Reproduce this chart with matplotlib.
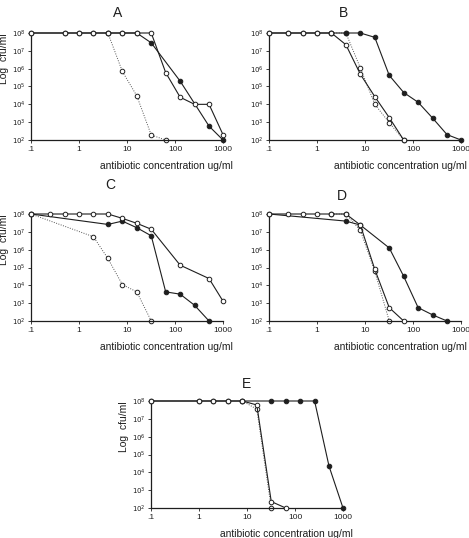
import numpy as np
import matplotlib
matplotlib.use('Agg')
import matplotlib.pyplot as plt

plt.rcParams['font.family'] = ['Liberation Sans', 'DejaVu Sans']
plt.rcParams['mathtext.fontset'] = 'dejavusans'

W, H = 469, 538

# panel A
a_open_x = [0.1, 0.5, 1, 2, 4, 8, 16, 32, 64, 128, 256, 512, 1000]
a_open_y = [1e8, 1e8, 1e8, 1e8, 1e8, 1e8, 1e8, 1e8, 6e5, 2.5e4, 1e4, 1e4, 2e2]
a_fill_x = [0.1, 0.5, 1, 2, 4, 8, 16, 32, 128, 512, 1000]
a_fill_y = [1e8, 1e8, 1e8, 1e8, 1e8, 1e8, 1e8, 2.8e7, 2e5, 6e2, 1e2]
a_dot_x = [4, 8, 16, 32, 64]
a_dot_y = [1e8, 7e5, 3e4, 1.9e2, 1e2]

# panel B
b_open_x = [0.1, 0.25, 0.5, 1, 2, 4, 8, 16, 32, 64]
b_open_y = [1e8, 1e8, 1e8, 1e8, 1e8, 2.2e7, 4.9e5, 2.7e4, 1.8e3, 1e2]
b_fill_x = [0.1, 0.25, 0.5, 1, 2, 4, 8, 16, 32, 64, 128, 256, 512, 1000]
b_fill_y = [1e8, 1e8, 1e8, 1e8, 1e8, 1e8, 1e8, 5.7e7, 4.2e5, 4.6e4, 1.3e4, 1.7e3, 2e2, 1e2]
b_dot_x = [2, 4, 8, 16, 32, 64]
b_dot_y = [1e8, 1e8, 1.1e6, 1e4, 9.4e2, 1e2]

# panel C
c_open_x = [0.1, 0.25, 0.5, 1, 2, 4, 8, 16, 32, 128, 512, 1000]
c_open_y = [1e8, 1e8, 1e8, 1e8, 1e8, 1e8, 5.7e7, 3e7, 1.4e7, 1.35e5, 2.4e4, 1.3e3]
c_fill_x = [0.1, 4, 8, 16, 32, 64, 128, 256, 512]
c_fill_y = [1e8, 2.6e7, 4e7, 1.7e7, 6e6, 4.3e3, 3.2e3, 7.6e2, 1e2]
c_dot_x = [0.1, 2, 4, 8, 16, 32]
c_dot_y = [1e8, 5.3e6, 3.2e5, 1.1e4, 4.3e3, 1e2]

# panel D
d_open_x = [0.1, 0.25, 0.5, 1, 2, 4, 8, 16, 32, 64]
d_open_y = [1e8, 1e8, 1e8, 1e8, 1e8, 1e8, 2.4e7, 7.8e4, 5.6e2, 1e2]
d_fill_x = [0.1, 4, 8, 32, 64, 128, 256, 512]
d_fill_y = [1e8, 4e7, 2.4e7, 1.25e6, 3.2e4, 5.6e2, 2.2e2, 1e2]
d_dot_x = [2, 4, 8, 16, 32]
d_dot_y = [1e8, 1e8, 1.2e7, 6e4, 1e2]

# panel E
e_open_x = [0.1, 1, 2, 4, 8, 16, 32, 64]
e_open_y = [1e8, 1e8, 1e8, 1e8, 1e8, 6e7, 2.3e2, 1e2]
e_fill_x = [0.1, 1, 2, 4, 8, 32, 64, 128, 256, 512, 1000]
e_fill_y = [1e8, 1e8, 1e8, 1e8, 1e8, 1e8, 1e8, 1e8, 1e8, 2.2e4, 1e2]
e_dot_x = [8, 16, 32]
e_dot_y = [1e8, 3.5e7, 1e2]

xticks = [0.1, 1, 10, 100, 1000]
xticklabels = ['.1', '1', '10', '100', '1000']
yexp = [2, 3, 4, 5, 6, 7, 8]

# name, axes top-left (px), title centre (px), y label?, xlabel right end
panels = [
    ('A', (31, 33), (118, 13), True, 1.05,
     (a_open_x, a_open_y), (a_fill_x, a_fill_y), (a_dot_x, a_dot_y)),
    ('B', (269, 33), (343, 13), False, 1.03,
     (b_open_x, b_open_y), (b_fill_x, b_fill_y), (b_dot_x, b_dot_y)),
    ('C', (31, 214), (110, 185), True, 1.05,
     (c_open_x, c_open_y), (c_fill_x, c_fill_y), (c_dot_x, c_dot_y)),
    ('D', (269, 214), (342, 196), False, 1.03,
     (d_open_x, d_open_y), (d_fill_x, d_fill_y), (d_dot_x, d_dot_y)),
    ('E', (151, 401), (246, 384), True, 1.05,
     (e_open_x, e_open_y), (e_fill_x, e_fill_y), (e_dot_x, e_dot_y)),
]

ink = '#1e1e1e'
fig = plt.figure(figsize=(W / 100, H / 100), dpi=100)

for name, (left, top), (tx, ty), ylab, xl_end, opn, fil, dot in panels:
    ax = fig.add_axes([left / W, 1 - (top + 107) / H, 192 / W, 107 / H])
    ax.set_xscale('log')
    ax.set_yscale('log')

    ax.plot(dot[0], dot[1], ls=(0, (1, 1.5)), lw=0.7, color='#555555',
            marker='o', ms=3.3, mfc='white', mec=ink, mew=0.7,
            clip_on=False, zorder=2)
    ax.plot(fil[0], fil[1], ls='-', lw=0.8, color=ink,
            marker='o', ms=3.3, mfc=ink, mec=ink, mew=0.7,
            clip_on=False, zorder=3)
    ax.plot(opn[0], opn[1], ls='-', lw=0.8, color=ink,
            marker='o', ms=3.3, mfc='white', mec=ink, mew=0.7,
            clip_on=False, zorder=4)

    ax.set_xlim(0.1, 1000)
    ax.set_ylim(1e2, 1e8)
    ax.set_xticks(xticks)
    ax.set_xticklabels(xticklabels)
    ax.set_yticks([10.0 ** e for e in yexp])
    ax.set_yticklabels(['$10^{%d}$' % e for e in yexp])
    ax.minorticks_off()
    ax.tick_params(axis='x', labelsize=6, length=2, width=0.6, pad=2, colors=ink)
    ax.tick_params(axis='y', labelsize=5, length=2, width=0.6, pad=2, colors=ink)
    for s in ['top', 'right']:
        ax.spines[s].set_visible(False)
    for s in ['left', 'bottom']:
        ax.spines[s].set_linewidth(0.9)
        ax.spines[s].set_color(ink)

    ax.set_xlabel('antibiotic concentration ug/ml', fontsize=7.4, color=ink,
                  ha='right', va='center')
    ax.xaxis.set_label_coords(xl_end, -0.245)
    if ylab:
        ax.set_ylabel('Log  cfu/ml', fontsize=7.5, color=ink, va='center')
        ax.yaxis.set_label_coords(-0.14, 0.76)

    fig.text(tx / W, 1 - ty / H, name, fontsize=10, color=ink,
             ha='center', va='center')

fig.savefig('out.png', dpi=100)
